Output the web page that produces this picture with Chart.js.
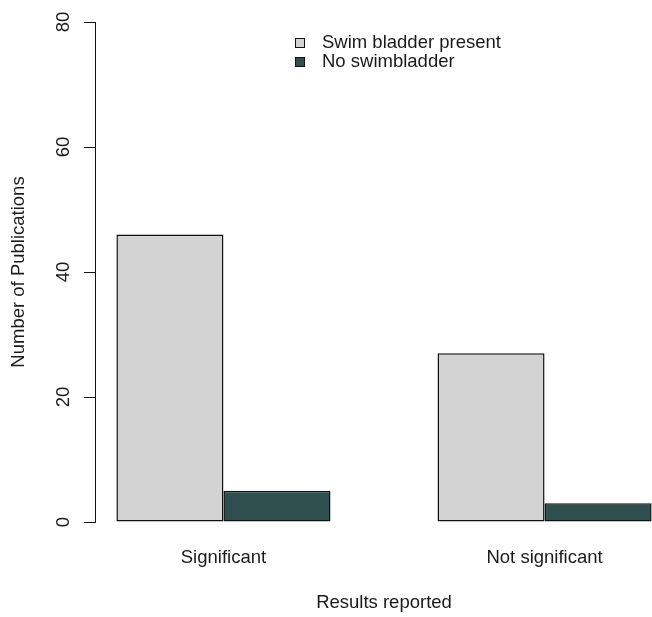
<!DOCTYPE html>
<html>
<head>
<meta charset="utf-8">
<script src="https://cdn.jsdelivr.net/npm/chart.js@4/dist/chart.umd.min.js"></script>
<style>
  html, body { margin: 0; padding: 0; background: #ffffff; width: 652px; height: 617px; overflow: hidden; }
  canvas { display: block; }
</style>
</head>
<body>
<canvas id="chart" width="673" height="617"></canvas>
<script>
// Publications counted per reported result, split by swim bladder presence
const categories = ['Significant', 'Not significant'];
const seriesNames = ['Swim bladder present', 'No swimbladder'];
const swimBladderPresent = [46, 27];
const noSwimBladder = [5, 3];
const yTicks = [0, 20, 40, 60, 80];

const FONT = '"Liberation Sans", Arial, Helvetica, sans-serif';
const FONT_SIZE = 18.5;
const INK = '#1a1a1a';
const LINE = '#111111';

// Groups of two unit-wide bars with one unit of space between groups:
// group i is centred at 2 + 3 * i, x range padded by 4% like a base-R barplot.
const groupCentre = i => 2 + 3 * i;
const toPoints = values => values.map((v, i) => ({ x: groupCentre(i), y: v }));

// Boxed legend stacked in a single column near the top of the plot
const boxLegend = {
  id: 'boxLegend',
  afterDraw(chart) {
    const ctx = chart.ctx;
    ctx.save();
    ctx.font = FONT_SIZE + 'px ' + FONT;
    ctx.textBaseline = 'middle';
    ctx.textAlign = 'left';
    chart.data.datasets.forEach((ds, i) => {
      const cy = 43 + i * 19;
      ctx.fillStyle = ds.backgroundColor;
      ctx.fillRect(295.5, cy - 4.5, 9, 9);
      ctx.strokeStyle = LINE;
      ctx.lineWidth = 1;
      ctx.strokeRect(295.5, cy - 4.5, 9, 9);
      ctx.fillStyle = INK;
      ctx.fillText(ds.label, 322, cy);
    });
    ctx.restore();
  }
};

new Chart(document.getElementById('chart'), {
  type: 'bar',
  data: {
    datasets: [
      {
        label: seriesNames[0],
        data: toPoints(swimBladderPresent),
        backgroundColor: '#d3d3d3',
        borderColor: LINE,
        borderWidth: 1.5,
        borderSkipped: false
      },
      {
        label: seriesNames[1],
        data: toPoints(noSwimBladder),
        backgroundColor: '#2f4f4f',
        borderColor: LINE,
        borderWidth: 1.5,
        borderSkipped: false
      }
    ]
  },
  options: {
    responsive: false,
    animation: false,
    devicePixelRatio: 1,
    categoryPercentage: 2 / 3,
    barPercentage: 1,
    layout: { padding: { left: 0, top: 22, right: 0, bottom: 0 } },
    plugins: {
      legend: { display: false },
      tooltip: { enabled: false }
    },
    scales: {
      x: {
        type: 'linear',
        min: 0.8,
        max: 6.2,
        offset: false,
        afterBuildTicks: axis => {
          axis.ticks = categories.map((c, i) => ({ value: groupCentre(i) }));
        },
        afterFit: axis => { axis.height = 95; },
        grid: { display: false },
        border: { display: false },
        ticks: {
          autoSkip: false,
          maxRotation: 0,
          padding: 17,
          color: INK,
          font: { family: FONT, size: FONT_SIZE },
          callback: (value) => {
            const i = Math.round((value - 2) / 3);
            return categories[i];
          }
        },
        title: {
          display: true,
          text: 'Results reported',
          color: INK,
          font: { family: FONT, size: FONT_SIZE },
          padding: { top: 0, bottom: 3 }
        }
      },
      y: {
        min: yTicks[0],
        max: yTicks[yTicks.length - 1],
        afterBuildTicks: axis => {
          axis.ticks = yTicks.map(v => ({ value: v }));
        },
        afterFit: axis => { axis.width = 95; },
        grid: {
          drawOnChartArea: false,
          drawTicks: true,
          tickLength: 11,
          color: LINE,
          lineWidth: 1
        },
        border: { display: true, color: LINE, width: 1 },
        ticks: {
          minRotation: 90,
          maxRotation: 90,
          crossAlign: 'center',
          padding: 10,
          color: INK,
          font: { family: FONT, size: FONT_SIZE }
        },
        title: {
          display: true,
          text: 'Number of Publications',
          color: INK,
          font: { family: FONT, size: FONT_SIZE },
          padding: { top: 7.4, bottom: 0 }
        }
      }
    }
  },
  plugins: [boxLegend]
});
</script>
</body>
</html>
